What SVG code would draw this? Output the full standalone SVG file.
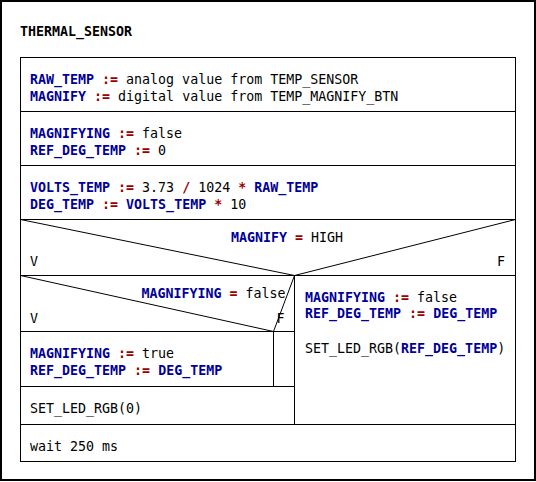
<svg xmlns="http://www.w3.org/2000/svg" width="536" height="482" viewBox="0 0 536 482">
<style>
text{font-family:"DejaVu Sans Mono","Liberation Mono",monospace;font-size:13.3px;fill:#000}
.v{font-weight:bold;fill:#000099}
.o{font-weight:bold;fill:#990000}
.t{font-weight:bold}
.box{fill:none;stroke:#000;stroke-width:1}
.ln{stroke:#000;stroke-width:1;fill:none}
</style>
<rect x="0" y="0" width="536" height="482" fill="#fff"/>
<rect x="1" y="1" width="534" height="479" fill="none" stroke="#000" stroke-width="2"/>
<text class="t" x="20" y="36">THERMAL_SENSOR</text>
<rect class="box" x="20.5" y="57.5" width="495" height="404"/>

<g id="n_input">
<line class="ln" x1="20" y1="111.5" x2="515" y2="111.5"/>
<text x="30" y="83.5"><tspan class="v">RAW_TEMP</tspan> <tspan class="o">:=</tspan> analog value from TEMP_SENSOR</text>
<text x="30" y="100.5"><tspan class="v">MAGNIFY</tspan> <tspan class="o">:=</tspan> digital value from TEMP_MAGNIFY_BTN</text>
</g>
<g id="n_init">
<line class="ln" x1="20" y1="165.5" x2="515" y2="165.5"/>
<text x="30" y="138"><tspan class="v">MAGNIFYING</tspan> <tspan class="o">:=</tspan> false</text>
<text x="30" y="155"><tspan class="v">REF_DEG_TEMP</tspan> <tspan class="o">:=</tspan> 0</text>
</g>
<g id="n_calc">
<line class="ln" x1="20" y1="219.5" x2="515" y2="219.5"/>
<text x="30" y="191.5"><tspan class="v">VOLTS_TEMP</tspan> <tspan class="o">:=</tspan> 3.73 <tspan class="o">/</tspan> 1024 <tspan class="o">*</tspan> <tspan class="v">RAW_TEMP</tspan></text>
<text x="30" y="208.5"><tspan class="v">DEG_TEMP</tspan> <tspan class="o">:=</tspan> <tspan class="v">VOLTS_TEMP</tspan> <tspan class="o">*</tspan> 10</text>
</g>
<g id="n_if_magnify">
<line class="ln" x1="20" y1="275.5" x2="515" y2="275.5"/>
<text x="231" y="241.5"><tspan class="v">MAGNIFY</tspan> <tspan class="o">=</tspan> HIGH</text>
<text x="30" y="266">V</text>
<text x="497" y="266">F</text>
</g>
<g id="n_if_magnifying">
<line class="ln" x1="20" y1="331.5" x2="294" y2="331.5"/>
<text x="141.5" y="298"><tspan class="v">MAGNIFYING</tspan> <tspan class="o">=</tspan> false</text>
<text x="30" y="322.5">V</text>
<text x="276.5" y="322.5">F</text>
</g>
<g id="n_set_true">
<line class="ln" x1="20" y1="386.5" x2="294" y2="386.5"/>
<line class="ln" x1="273.5" y1="331" x2="273.5" y2="386"/>
<text x="30" y="358"><tspan class="v">MAGNIFYING</tspan> <tspan class="o">:=</tspan> true</text>
<text x="30" y="375"><tspan class="v">REF_DEG_TEMP</tspan> <tspan class="o">:=</tspan> <tspan class="v">DEG_TEMP</tspan></text>
</g>
<g id="n_led_off">
<line class="ln" x1="20" y1="424.5" x2="515" y2="424.5"/>
<text x="30" y="412.5">SET_LED_RGB(0)</text>
</g>
<g id="n_else">
<line class="ln" x1="294.5" y1="275" x2="294.5" y2="424"/>
<text x="305" y="301.5"><tspan class="v">MAGNIFYING</tspan> <tspan class="o">:=</tspan> false</text>
<text x="305" y="318"><tspan class="v">REF_DEG_TEMP</tspan> <tspan class="o">:=</tspan> <tspan class="v">DEG_TEMP</tspan></text>
<text x="305" y="352.5">SET_LED_RGB(<tspan class="v">REF_DEG_TEMP</tspan>)</text>
</g>
<g id="n_wait">
<text x="30" y="450.5">wait 250 ms</text>
</g>
<g id="connectors">
<line class="ln" x1="20.5" y1="219.5" x2="294.5" y2="275.5"/>
<line class="ln" x1="294.5" y1="275.5" x2="515.5" y2="219.5"/>
<line class="ln" x1="20.5" y1="275.5" x2="273.5" y2="331.5"/>
<line class="ln" x1="273.5" y1="331.5" x2="294.5" y2="275.5"/>
</g>
</svg>
